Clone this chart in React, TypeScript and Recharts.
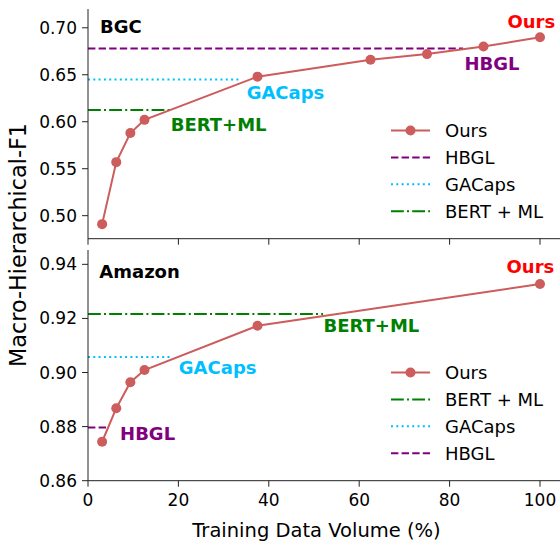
import { Line, LineChart, ReferenceDot, XAxis, YAxis } from "recharts";

const FONT = "'DejaVu Sans', sans-serif";
const AXIS = "#222222";
const OURS = "#cd5c5c";

// training data volume (%)
const bgcVolumes = [3.125, 6.25, 9.375, 12.5, 37.5, 62.5, 75, 87.5, 100];
const bgcOurs = [0.491, 0.557, 0.588, 0.602, 0.648, 0.666, 0.672, 0.68, 0.69];
const amazonVolumes = [3.125, 6.25, 9.375, 12.5, 37.5, 100];
const amazonOurs = [0.8744, 0.8868, 0.8964, 0.9009, 0.9173, 0.9327];

// baselines drawn as short horizontal lines: score + how far they run
const bgcBaselines = ["HBGL", "GACaps", "BERT + ML"];
const bgcBaselineScores = [0.678, 0.645, 0.6125];
const bgcBaselineEnds = [83, 33.3, 18.1];
const amazonBaselines = ["BERT + ML", "GACaps", "HBGL"];
const amazonBaselineScores = [0.9216, 0.9057, 0.8797];
const amazonBaselineEnds = [52, 18.1, 4.7];

const xTicks = [0, 20, 40, 60, 80, 100];
const bgcTicks = [0.5, 0.55, 0.6, 0.65, 0.7];
const amazonTicks = [0.86, 0.88, 0.9, 0.92, 0.94];

const STYLES: Record<string, { color: string; dash: string }> = {
  HBGL: { color: "#800080", dash: "7.4 3.2" },
  GACaps: { color: "#00bfff", dash: "2 3.3" },
  "BERT + ML": { color: "#008000", dash: "12.8 3.2 2 3.2" },
};

type Note = { text: string; x: number; y: number; color: string };

const bgcNotes: Note[] = [
  { text: "BGC", x: 2.65, y: 0.7018, color: "#000000" },
  { text: "GACaps", x: 35.1, y: 0.6309, color: "#00bfff" },
  { text: "BERT+ML", x: 18.3, y: 0.597, color: "#008000" },
  { text: "HBGL", x: 83.3, y: 0.662, color: "#800080" },
  { text: "Ours", x: 92.8, y: 0.7069, color: "#ff0000" },
];
const amazonNotes: Note[] = [
  { text: "Amazon", x: 2.5, y: 0.9373, color: "#000000" },
  { text: "GACaps", x: 20.1, y: 0.902, color: "#00bfff" },
  { text: "BERT+ML", x: 52.1, y: 0.9174, color: "#008000" },
  { text: "HBGL", x: 7.1, y: 0.8774, color: "#800080" },
  { text: "Ours", x: 92.6, y: 0.9393, color: "#ff0000" },
];

function noteShape(note: Note) {
  return (p: any) => (
    <text
      x={p.cx}
      y={p.cy}
      dominantBaseline="central"
      fill={note.color}
      fontSize={18}
      fontWeight={700}
      fontFamily={FONT}
    >
      {note.text}
    </text>
  );
}

function Legend({ top, names }: { top: number; names: string[] }) {
  const rows = ["Ours", ...names];
  return (
    <svg
      width={170}
      height={115}
      style={{ position: "absolute", left: 385, top: top - 13.5 }}
    >
      {rows.map((name, i) => {
        const y = 13.5 + i * 26.9;
        const s = STYLES[name];
        return (
          <g key={name}>
            <line
              x1={6}
              x2={45}
              y1={y}
              y2={y}
              stroke={s ? s.color : OURS}
              strokeWidth={2}
              strokeDasharray={s ? s.dash : undefined}
            />
            {!s && <circle cx={25.5} cy={y} r={5} fill={OURS} />}
            <text
              x={60}
              y={y}
              dominantBaseline="central"
              fontSize={18}
              fontFamily={FONT}
              fill="#000"
            >
              {name}
            </text>
          </g>
        );
      })}
    </svg>
  );
}

function Panel({
  top,
  height,
  marginTop,
  axisHeight,
  domain,
  ticks,
  volumes,
  ours,
  names,
  scores,
  ends,
  notes,
  bottom,
}: {
  top: number;
  height: number;
  marginTop: number;
  axisHeight: number;
  domain: [number, number];
  ticks: number[];
  volumes: number[];
  ours: number[];
  names: string[];
  scores: number[];
  ends: number[];
  notes: Note[];
  bottom?: boolean;
}) {
  const oursData = volumes.map((x, i) => ({ x, y: ours[i] }));
  const tickStyle = { fontSize: 17, fontFamily: FONT, fill: "#000" };
  return (
    <div style={{ position: "absolute", left: 0, top }}>
      <LineChart
        width={580}
        height={height}
        margin={{ top: marginTop, right: 17.4, bottom: 0, left: 0 }}
      >
        <XAxis
          dataKey="x"
          type="number"
          domain={[0, 105]}
          ticks={xTicks}
          height={axisHeight}
          tickSize={6}
          tickMargin={7}
          tick={tickStyle}
          tickFormatter={bottom ? (v) => String(v) : () => ""}
          stroke={AXIS}
          tickLine={{ stroke: AXIS }}
          label={
            bottom
              ? {
                  value: "Training Data Volume (%)",
                  position: "insideBottom",
                  offset: 5,
                  dx: -8.8,
                  fontSize: 19.5,
                  fontFamily: FONT,
                  fill: "#000",
                }
              : undefined
          }
        />
        <XAxis
          xAxisId="frame"
          orientation="top"
          type="number"
          domain={[0, 105]}
          height={0}
          tick={false}
          tickLine={false}
          stroke={AXIS}
        />
        <YAxis
          type="number"
          domain={domain}
          ticks={ticks}
          width={88}
          tickSize={6}
          tickMargin={5}
          tick={tickStyle}
          tickFormatter={(v) => v.toFixed(2)}
          stroke={AXIS}
          tickLine={{ stroke: AXIS }}
          allowDataOverflow
        />
        {names.map((name, i) => (
          <Line
            key={name}
            data={[
              { x: 0, y: scores[i] },
              { x: ends[i], y: scores[i] },
            ]}
            dataKey="y"
            stroke={STYLES[name].color}
            strokeWidth={2}
            strokeDasharray={STYLES[name].dash}
            dot={false}
            isAnimationActive={false}
          />
        ))}
        <Line
          data={oursData}
          dataKey="y"
          stroke={OURS}
          strokeWidth={2}
          dot={{ r: 5, fill: OURS, stroke: OURS, strokeWidth: 0 }}
          isAnimationActive={false}
        />
        {notes.map((n) => (
          <ReferenceDot
            key={n.text}
            x={n.x}
            y={n.y}
            r={0}
            ifOverflow="visible"
            shape={noteShape(n)}
          />
        ))}
      </LineChart>
    </div>
  );
}

export default function App() {
  return (
    <div
      style={{
        position: "absolute",
        left: 0,
        top: 0,
        width: 560,
        height: 542,
        overflow: "hidden",
        background: "#fff",
        fontFamily: FONT,
      }}
    >
      <Panel
        top={0}
        height={250}
        marginTop={9}
        axisHeight={11.3}
        domain={[0.4755, 0.72]}
        ticks={bgcTicks}
        volumes={bgcVolumes}
        ours={bgcOurs}
        names={bgcBaselines}
        scores={bgcBaselineScores}
        ends={bgcBaselineEnds}
        notes={bgcNotes}
      />
      <Panel
        top={240}
        height={302}
        marginTop={10}
        axisHeight={61.3}
        domain={[0.86, 0.9453]}
        ticks={amazonTicks}
        volumes={amazonVolumes}
        ours={amazonOurs}
        names={amazonBaselines}
        scores={amazonBaselineScores}
        ends={amazonBaselineEnds}
        notes={amazonNotes}
        bottom
      />
      <Legend top={130.7} names={bgcBaselines} />
      <Legend top={372.7} names={amazonBaselines} />
      <svg
        width={40}
        height={542}
        style={{ position: "absolute", left: 0, top: 0 }}
      >
        <text
          transform="translate(26, 245) rotate(-90)"
          textAnchor="middle"
          fontSize={22.3}
          fontFamily={FONT}
          fill="#000"
        >
          Macro-Hierarchical-F1
        </text>
      </svg>
    </div>
  );
}
